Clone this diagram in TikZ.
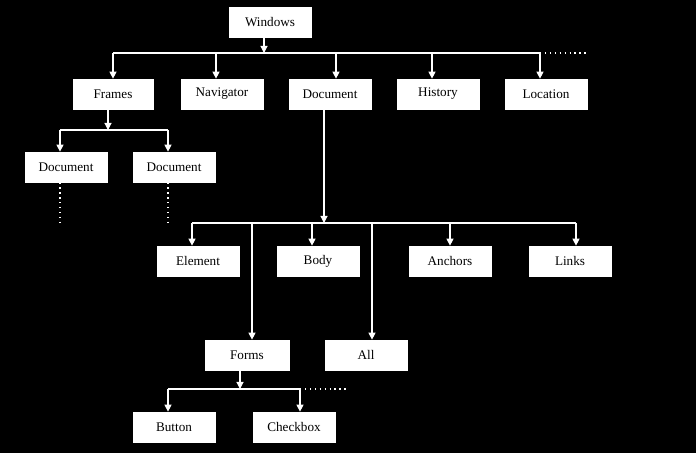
\documentclass[tikz,border=0pt]{standalone}
\usepackage{fontspec}
\setmainfont{Liberation Serif}
\usetikzlibrary{arrows.meta}
\tikzset{
    box/.style={draw=white, fill=white, minimum width=1.64cm, minimum height=0.6cm, inner sep=0pt, font=\fontsize{7.5}{9}\selectfont},
    wire/.style={white, line width=0.6pt},
    arr/.style={wire, -{Triangle[width=4pt,length=4pt]}},
    dots/.style={white, line width=0.8pt, dotted}
}
\begin{document}
\begin{tikzpicture}[x=0.02cm, y=-0.02cm]
    \fill[black] (0,0) rectangle (696,453);
    % top level
    \node[box] (win) at (270,22) {Windows};
    \node[box, minimum width=1.6cm] (frames) at (113,94) {Frames};
    \node[box] (nav) at (222,94) {Navigator};
    \node[box] (doc) at (330,94) {Document};
    \node[box] (hist) at (438,94) {History};
    \node[box] (loc) at (546,94) {Location};
    \coordinate (b1) at (264,53);
    \draw[arr] (win.south -| b1) -- (b1);
    \draw[wire] (113,53) -- (540,53);
    \draw[dots] (540,53) -- (587,53);
    \foreach \n/\x in {frames/113, nav/216, doc/336, hist/432, loc/540}
        \draw[arr] (\x,53) -- (\n.north -| {(\x,0)});
    % frames
    \node[box] (fdoc1) at (66,167) {Document};
    \node[box] (fdoc2) at (174,167) {Document};
    \coordinate (b2) at (108,130);
    \draw[arr] (frames.south -| b2) -- (b2);
    \draw[wire] (60,130) -- (168,130);
    \foreach \n/\x in {fdoc1/60, fdoc2/168}{
        \draw[arr] (\x,130) -- (\n.north -| {(\x,0)});
        \draw[dots] (\n.south -| {(\x,0)}) -- (\x,224);
    }
    % document
    \node[box] (elem) at (198,261) {Element};
    \node[box] (body) at (318,261) {Body};
    \node[box] (anch) at (450,261) {Anchors};
    \node[box] (links) at (570,261) {Links};
    \node[box, minimum width=1.68cm] (forms) at (247,355) {Forms};
    \node[box] (all) at (366,355) {All};
    \coordinate (b3) at (324,223);
    \draw[arr] (doc.south -| b3) -- (b3);
    \draw[wire] (192,223) -- (576,223);
    \foreach \n/\x in {elem/192, body/312, anch/450, links/576, forms/252, all/372}
        \draw[arr] (\x,223) -- (\n.north -| {(\x,0)});
    % forms
    \node[box] (btn) at (174,427) {Button};
    \node[box] (chk) at (294,427) {Checkbox};
    \coordinate (b4) at (240,389);
    \draw[arr] (forms.south -| b4) -- (b4);
    \draw[wire] (168,389) -- (300,389);
    \draw[dots] (300,389) -- (346,389);
    \foreach \n/\x in {btn/168, chk/300}
        \draw[arr] (\x,389) -- (\n.north -| {(\x,0)});
\end{tikzpicture}
\end{document}
